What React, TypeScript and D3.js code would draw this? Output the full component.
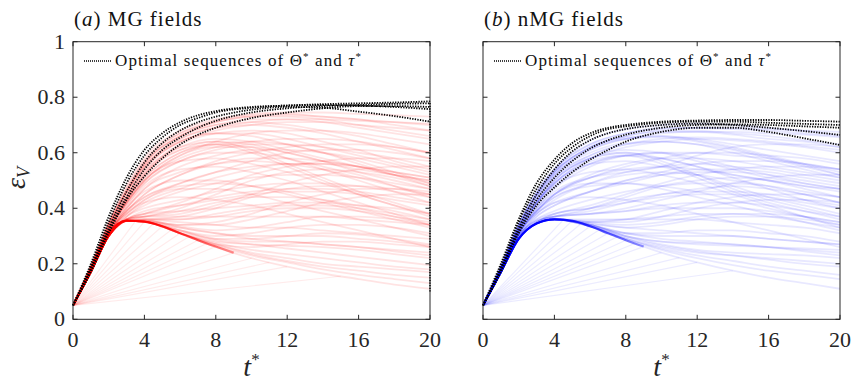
import React from "react";
import * as d3 from "d3";

// ---------- shared axes ----------
const TIME = [0, 1, 2, 3, 4, 6, 8, 10, 12, 14, 16, 18, 20];
const TIME_OPT = [0, 1, 2, 3, 4, 5, 6, 7, 8, 10, 12, 14, 16, 18, 20];
const TIME_BOLD = [0, 1, 2, 3, 4, 5, 6, 7, 8, 9];
const X_TICKS = [0, 4, 8, 12, 16, 20];
const Y_TICKS = [0, 0.2, 0.4, 0.6, 0.8, 1];
const Y_TICK_LABELS = ["0", "0.2", "0.4", "0.6", "0.8", "1"];
const START_V = 0.05;

// ---------- (a) MG fields ----------
const MG_CLOUD = [
  [0.05, 0.19, 0.35, 0.48, 0.58, 0.68, 0.72, 0.74, 0.745, 0.745, 0.74, 0.735, 0.73],
  [0.05, 0.19, 0.34, 0.47, 0.57, 0.67, 0.715, 0.735, 0.74, 0.73, 0.72, 0.71, 0.7],
  [0.05, 0.19, 0.34, 0.46, 0.56, 0.66, 0.7, 0.72, 0.72, 0.71, 0.69, 0.67, 0.65],
  [0.05, 0.18, 0.33, 0.45, 0.55, 0.65, 0.69, 0.7, 0.69, 0.67, 0.64, 0.61, 0.58],
  [0.05, 0.18, 0.33, 0.44, 0.53, 0.63, 0.67, 0.68, 0.67, 0.64, 0.61, 0.57, 0.54],
  [0.05, 0.18, 0.32, 0.43, 0.52, 0.62, 0.64, 0.61, 0.56, 0.51, 0.46, 0.42, 0.38],
  [0.05, 0.18, 0.32, 0.43, 0.52, 0.61, 0.63, 0.6, 0.55, 0.5, 0.45, 0.41, 0.37],
  [0.05, 0.18, 0.32, 0.42, 0.5, 0.59, 0.62, 0.62, 0.6, 0.57, 0.53, 0.5, 0.47],
  [0.05, 0.18, 0.31, 0.41, 0.49, 0.57, 0.61, 0.63, 0.63, 0.62, 0.6, 0.58, 0.55],
  [0.05, 0.18, 0.31, 0.4, 0.47, 0.55, 0.59, 0.61, 0.61, 0.6, 0.58, 0.55, 0.52],
  [0.05, 0.18, 0.31, 0.39, 0.45, 0.52, 0.56, 0.58, 0.58, 0.57, 0.55, 0.52, 0.49],
  [0.05, 0.17, 0.31, 0.38, 0.43, 0.49, 0.53, 0.55, 0.56, 0.56, 0.54, 0.52, 0.5],
  [0.05, 0.17, 0.3, 0.37, 0.41, 0.46, 0.49, 0.51, 0.52, 0.52, 0.51, 0.49, 0.47],
  [0.05, 0.17, 0.3, 0.37, 0.4, 0.43, 0.46, 0.48, 0.49, 0.49, 0.48, 0.46, 0.44],
  [0.05, 0.17, 0.3, 0.36, 0.39, 0.41, 0.43, 0.45, 0.46, 0.46, 0.45, 0.43, 0.41],
  [0.05, 0.17, 0.3, 0.36, 0.38, 0.39, 0.4, 0.41, 0.42, 0.42, 0.41, 0.4, 0.38],
  [0.05, 0.17, 0.3, 0.36, 0.37, 0.37, 0.37, 0.37, 0.37, 0.37, 0.36, 0.35, 0.34],
  [0.05, 0.17, 0.3, 0.355, 0.36, 0.35, 0.34, 0.33, 0.33, 0.32, 0.31, 0.3, 0.29],
  [0.05, 0.17, 0.3, 0.355, 0.355, 0.33, 0.31, 0.29, 0.28, 0.27, 0.26, 0.25, 0.24],
  [0.05, 0.17, 0.3, 0.355, 0.352, 0.31, 0.27, 0.24, 0.22, 0.2, 0.19, 0.18, 0.17],
  [0.05, 0.17, 0.3, 0.355, 0.352, 0.31, 0.26, 0.22, 0.19, 0.165, 0.145, 0.125, 0.11],
  [0.05, 0.17, 0.3, 0.355, 0.352, 0.31, 0.265, 0.23, 0.205, 0.18, 0.16, 0.145, 0.13],
  [0.05, 0.17, 0.3, 0.355, 0.352, 0.31, 0.27, 0.26, 0.27, 0.28, 0.28, 0.27, 0.26],
  [0.05, 0.17, 0.3, 0.355, 0.352, 0.32, 0.3, 0.31, 0.33, 0.34, 0.34, 0.33, 0.31],
  [0.05, 0.17, 0.3, 0.355, 0.36, 0.36, 0.38, 0.4, 0.41, 0.41, 0.4, 0.38, 0.36],
  [0.05, 0.18, 0.31, 0.4, 0.46, 0.5, 0.5, 0.48, 0.45, 0.42, 0.39, 0.36, 0.33],
  [0.05, 0.18, 0.31, 0.41, 0.48, 0.54, 0.55, 0.53, 0.5, 0.46, 0.42, 0.38, 0.34],
  [0.05, 0.18, 0.32, 0.43, 0.51, 0.6, 0.63, 0.64, 0.63, 0.6, 0.57, 0.53, 0.49],
  [0.05, 0.19, 0.34, 0.46, 0.56, 0.66, 0.7, 0.71, 0.7, 0.68, 0.66, 0.63, 0.6],
  [0.05, 0.18, 0.33, 0.44, 0.54, 0.64, 0.68, 0.7, 0.71, 0.71, 0.7, 0.69, 0.68],
  [0.05, 0.17, 0.3, 0.36, 0.38, 0.42, 0.47, 0.52, 0.55, 0.57, 0.58, 0.58, 0.57],
  [0.05, 0.17, 0.3, 0.36, 0.37, 0.38, 0.41, 0.45, 0.49, 0.52, 0.54, 0.55, 0.55],
  [0.05, 0.17, 0.3, 0.355, 0.355, 0.34, 0.34, 0.36, 0.39, 0.42, 0.44, 0.45, 0.45],
  [0.05, 0.17, 0.3, 0.355, 0.36, 0.37, 0.4, 0.44, 0.47, 0.48, 0.48, 0.47, 0.45],
  [0.05, 0.18, 0.31, 0.39, 0.44, 0.49, 0.53, 0.57, 0.6, 0.61, 0.61, 0.6, 0.58],
  [0.05, 0.18, 0.32, 0.42, 0.5, 0.58, 0.62, 0.64, 0.65, 0.65, 0.64, 0.62, 0.6],
  [0.05, 0.18, 0.32, 0.43, 0.52, 0.61, 0.64, 0.63, 0.6, 0.57, 0.55, 0.52, 0.5],
  [0.05, 0.18, 0.32, 0.43, 0.51, 0.6, 0.63, 0.62, 0.58, 0.54, 0.5, 0.46, 0.42],
  [0.05, 0.17, 0.3, 0.355, 0.352, 0.31, 0.28, 0.27, 0.255, 0.24, 0.225, 0.21, 0.195],
  [0.05, 0.17, 0.3, 0.355, 0.352, 0.32, 0.29, 0.28, 0.28, 0.27, 0.26, 0.245, 0.23],
  [0.05, 0.17, 0.3, 0.36, 0.37, 0.39, 0.42, 0.44, 0.44, 0.43, 0.41, 0.39, 0.36],
  [0.05, 0.18, 0.31, 0.38, 0.43, 0.47, 0.47, 0.45, 0.42, 0.39, 0.36, 0.33, 0.3],
  [0.05, 0.18, 0.32, 0.42, 0.49, 0.57, 0.6, 0.6, 0.58, 0.55, 0.52, 0.48, 0.44],
  [0.05, 0.19, 0.34, 0.46, 0.55, 0.64, 0.67, 0.66, 0.63, 0.6, 0.56, 0.52, 0.48],
  [0.05, 0.17, 0.3, 0.355, 0.352, 0.31, 0.27, 0.235, 0.21, 0.19, 0.175, 0.16, 0.15],
  [0.05, 0.17, 0.3, 0.355, 0.352, 0.31, 0.275, 0.25, 0.235, 0.22, 0.205, 0.19, 0.18],
  [0.05, 0.17, 0.3, 0.355, 0.352, 0.315, 0.285, 0.27, 0.265, 0.26, 0.25, 0.235, 0.22],
  [0.05, 0.17, 0.3, 0.355, 0.352, 0.32, 0.29, 0.29, 0.3, 0.31, 0.305, 0.29, 0.27],
  [0.05, 0.17, 0.3, 0.355, 0.355, 0.335, 0.32, 0.33, 0.35, 0.37, 0.37, 0.36, 0.34],
  [0.05, 0.17, 0.3, 0.355, 0.355, 0.34, 0.35, 0.38, 0.42, 0.45, 0.47, 0.47, 0.46],
  [0.05, 0.17, 0.3, 0.36, 0.37, 0.4, 0.45, 0.5, 0.53, 0.54, 0.53, 0.51, 0.48],
  [0.05, 0.18, 0.31, 0.39, 0.45, 0.52, 0.57, 0.6, 0.62, 0.63, 0.63, 0.62, 0.6],
  [0.05, 0.18, 0.32, 0.42, 0.5, 0.59, 0.64, 0.67, 0.68, 0.68, 0.67, 0.65, 0.63],
  [0.05, 0.19, 0.34, 0.46, 0.56, 0.66, 0.71, 0.73, 0.735, 0.73, 0.72, 0.7, 0.68],
  [0.05, 0.19, 0.35, 0.47, 0.57, 0.67, 0.71, 0.73, 0.73, 0.72, 0.7, 0.68, 0.66],
  [0.05, 0.19, 0.34, 0.46, 0.55, 0.65, 0.69, 0.71, 0.72, 0.72, 0.715, 0.71, 0.705],
  [0.05, 0.18, 0.33, 0.45, 0.54, 0.64, 0.67, 0.67, 0.65, 0.62, 0.59, 0.56, 0.53],
  [0.05, 0.18, 0.33, 0.44, 0.53, 0.62, 0.65, 0.64, 0.61, 0.58, 0.55, 0.53, 0.51],
  [0.05, 0.18, 0.32, 0.42, 0.5, 0.57, 0.58, 0.56, 0.53, 0.49, 0.45, 0.41, 0.38],
  [0.05, 0.18, 0.31, 0.4, 0.47, 0.53, 0.56, 0.57, 0.56, 0.54, 0.51, 0.48, 0.45],
  [0.05, 0.17, 0.3, 0.37, 0.42, 0.47, 0.51, 0.54, 0.56, 0.56, 0.55, 0.53, 0.51],
  [0.05, 0.17, 0.3, 0.36, 0.38, 0.41, 0.44, 0.46, 0.47, 0.47, 0.46, 0.44, 0.42],
  [0.05, 0.17, 0.3, 0.355, 0.36, 0.36, 0.37, 0.39, 0.4, 0.4, 0.39, 0.37, 0.35],
  [0.05, 0.17, 0.3, 0.355, 0.352, 0.33, 0.31, 0.3, 0.3, 0.3, 0.29, 0.28, 0.265],
  [0.05, 0.18, 0.31, 0.38, 0.42, 0.44, 0.43, 0.41, 0.38, 0.35, 0.32, 0.29, 0.26],
  [0.05, 0.18, 0.31, 0.39, 0.44, 0.48, 0.49, 0.48, 0.46, 0.43, 0.4, 0.37, 0.34],
];
const MG_OPTIMAL = [
  [0.05, 0.2, 0.37, 0.51, 0.61, 0.67, 0.71, 0.735, 0.75, 0.765, 0.77, 0.775, 0.778, 0.781, 0.785],
  [0.05, 0.19, 0.35, 0.49, 0.59, 0.655, 0.7, 0.725, 0.745, 0.762, 0.77, 0.772, 0.77, 0.765, 0.757],
  [0.05, 0.18, 0.33, 0.46, 0.565, 0.635, 0.68, 0.71, 0.73, 0.755, 0.765, 0.762, 0.748, 0.732, 0.712],
  [0.05, 0.17, 0.31, 0.43, 0.515, 0.58, 0.63, 0.665, 0.69, 0.725, 0.745, 0.76, 0.768, 0.768, 0.765],
  [0.05, 0.18, 0.32, 0.44, 0.54, 0.61, 0.655, 0.69, 0.715, 0.745, 0.76, 0.768, 0.772, 0.776, 0.778],
];
const MG_BOLD = [0.05, 0.175, 0.31, 0.355, 0.352, 0.335, 0.31, 0.285, 0.262, 0.24];
const MG_FAN_T = [3.5, 4, 4.5, 5, 5.5, 6, 6.5, 7, 7.5, 8, 9, 10, 11, 12, 15];
const MG_FAN_V = [0.354, 0.352, 0.345, 0.335, 0.322, 0.31, 0.297, 0.285, 0.273, 0.262, 0.24, 0.22, 0.205, 0.19, 0.155];
const MG_END_RANGE = [0.1, 0.785];

// ---------- (b) nMG fields ----------
const NMG_CLOUD = [
  [0.05, 0.19, 0.34, 0.46, 0.54, 0.63, 0.67, 0.69, 0.69, 0.685, 0.68, 0.67, 0.66],
  [0.05, 0.19, 0.34, 0.45, 0.53, 0.62, 0.66, 0.675, 0.675, 0.665, 0.65, 0.64, 0.62],
  [0.05, 0.18, 0.33, 0.44, 0.52, 0.61, 0.65, 0.66, 0.65, 0.63, 0.61, 0.59, 0.57],
  [0.05, 0.18, 0.33, 0.43, 0.51, 0.59, 0.63, 0.64, 0.63, 0.61, 0.58, 0.55, 0.52],
  [0.05, 0.18, 0.32, 0.42, 0.5, 0.58, 0.6, 0.57, 0.52, 0.47, 0.43, 0.4, 0.37],
  [0.05, 0.18, 0.32, 0.42, 0.49, 0.57, 0.59, 0.56, 0.51, 0.46, 0.42, 0.39, 0.36],
  [0.05, 0.18, 0.31, 0.4, 0.46, 0.51, 0.53, 0.55, 0.59, 0.62, 0.63, 0.63, 0.62],
  [0.05, 0.18, 0.31, 0.4, 0.47, 0.55, 0.59, 0.6, 0.58, 0.55, 0.52, 0.49, 0.47],
  [0.05, 0.18, 0.31, 0.39, 0.45, 0.52, 0.56, 0.58, 0.58, 0.57, 0.55, 0.53, 0.51],
  [0.05, 0.17, 0.3, 0.38, 0.43, 0.49, 0.53, 0.55, 0.56, 0.55, 0.54, 0.52, 0.5],
  [0.05, 0.17, 0.3, 0.37, 0.41, 0.46, 0.5, 0.52, 0.53, 0.53, 0.52, 0.5, 0.48],
  [0.05, 0.17, 0.3, 0.36, 0.39, 0.43, 0.46, 0.48, 0.49, 0.49, 0.48, 0.46, 0.44],
  [0.05, 0.17, 0.3, 0.35, 0.38, 0.4, 0.42, 0.44, 0.45, 0.45, 0.44, 0.42, 0.4],
  [0.05, 0.17, 0.29, 0.35, 0.37, 0.38, 0.39, 0.4, 0.4, 0.4, 0.39, 0.37, 0.35],
  [0.05, 0.17, 0.29, 0.345, 0.36, 0.36, 0.36, 0.36, 0.36, 0.35, 0.34, 0.33, 0.31],
  [0.05, 0.17, 0.29, 0.345, 0.36, 0.345, 0.33, 0.32, 0.31, 0.3, 0.29, 0.28, 0.27],
  [0.05, 0.17, 0.29, 0.345, 0.36, 0.335, 0.29, 0.26, 0.24, 0.23, 0.22, 0.21, 0.2],
  [0.05, 0.17, 0.29, 0.345, 0.36, 0.335, 0.285, 0.24, 0.205, 0.175, 0.15, 0.13, 0.11],
  [0.05, 0.17, 0.29, 0.345, 0.36, 0.335, 0.29, 0.25, 0.22, 0.195, 0.175, 0.16, 0.145],
  [0.05, 0.17, 0.29, 0.345, 0.36, 0.34, 0.31, 0.29, 0.28, 0.27, 0.26, 0.25, 0.24],
  [0.05, 0.17, 0.29, 0.345, 0.36, 0.35, 0.34, 0.35, 0.37, 0.38, 0.38, 0.37, 0.35],
  [0.05, 0.17, 0.29, 0.35, 0.37, 0.39, 0.42, 0.45, 0.47, 0.48, 0.47, 0.45, 0.42],
  [0.05, 0.18, 0.31, 0.4, 0.45, 0.49, 0.49, 0.47, 0.44, 0.41, 0.38, 0.35, 0.32],
  [0.05, 0.18, 0.32, 0.41, 0.48, 0.53, 0.54, 0.52, 0.49, 0.45, 0.41, 0.37, 0.33],
  [0.05, 0.19, 0.34, 0.45, 0.53, 0.62, 0.655, 0.66, 0.645, 0.62, 0.59, 0.56, 0.53],
  [0.05, 0.18, 0.33, 0.44, 0.52, 0.61, 0.65, 0.67, 0.675, 0.675, 0.67, 0.665, 0.655],
  [0.05, 0.17, 0.3, 0.36, 0.38, 0.41, 0.45, 0.49, 0.52, 0.54, 0.55, 0.55, 0.54],
  [0.05, 0.17, 0.29, 0.35, 0.37, 0.38, 0.4, 0.43, 0.46, 0.49, 0.51, 0.52, 0.52],
  [0.05, 0.17, 0.29, 0.345, 0.36, 0.35, 0.35, 0.37, 0.4, 0.42, 0.43, 0.43, 0.42],
  [0.05, 0.18, 0.31, 0.38, 0.42, 0.46, 0.5, 0.53, 0.56, 0.57, 0.57, 0.56, 0.54],
  [0.05, 0.18, 0.32, 0.41, 0.48, 0.56, 0.59, 0.6, 0.6, 0.59, 0.58, 0.56, 0.54],
  [0.05, 0.18, 0.32, 0.42, 0.5, 0.58, 0.61, 0.6, 0.57, 0.54, 0.51, 0.49, 0.47],
  [0.05, 0.18, 0.32, 0.42, 0.49, 0.56, 0.59, 0.58, 0.55, 0.51, 0.47, 0.43, 0.4],
  [0.05, 0.17, 0.29, 0.345, 0.36, 0.34, 0.3, 0.27, 0.25, 0.24, 0.235, 0.23, 0.22],
  [0.05, 0.17, 0.29, 0.345, 0.36, 0.34, 0.31, 0.3, 0.3, 0.3, 0.29, 0.28, 0.27],
  [0.05, 0.17, 0.3, 0.355, 0.37, 0.38, 0.39, 0.41, 0.42, 0.42, 0.41, 0.39, 0.37],
  [0.05, 0.18, 0.31, 0.39, 0.44, 0.49, 0.52, 0.53, 0.52, 0.5, 0.48, 0.45, 0.42],
  [0.05, 0.19, 0.34, 0.45, 0.53, 0.615, 0.65, 0.655, 0.64, 0.615, 0.585, 0.555, 0.52],
  [0.05, 0.18, 0.33, 0.43, 0.51, 0.59, 0.63, 0.65, 0.655, 0.65, 0.64, 0.625, 0.61],
  [0.05, 0.17, 0.29, 0.345, 0.36, 0.34, 0.3, 0.28, 0.27, 0.265, 0.26, 0.255, 0.25],
  [0.05, 0.18, 0.33, 0.45, 0.54, 0.645, 0.685, 0.7, 0.705, 0.7, 0.69, 0.678, 0.664],
  [0.05, 0.17, 0.29, 0.345, 0.36, 0.335, 0.29, 0.255, 0.23, 0.21, 0.19, 0.175, 0.16],
  [0.05, 0.17, 0.29, 0.345, 0.36, 0.335, 0.295, 0.265, 0.245, 0.23, 0.215, 0.2, 0.19],
  [0.05, 0.17, 0.29, 0.345, 0.36, 0.34, 0.3, 0.28, 0.275, 0.27, 0.26, 0.245, 0.23],
  [0.05, 0.17, 0.29, 0.345, 0.36, 0.34, 0.31, 0.31, 0.32, 0.32, 0.31, 0.3, 0.28],
  [0.05, 0.17, 0.29, 0.345, 0.36, 0.345, 0.33, 0.34, 0.36, 0.37, 0.37, 0.36, 0.34],
  [0.05, 0.17, 0.29, 0.345, 0.36, 0.35, 0.36, 0.39, 0.42, 0.44, 0.45, 0.45, 0.44],
  [0.05, 0.17, 0.3, 0.355, 0.37, 0.4, 0.44, 0.48, 0.5, 0.51, 0.5, 0.48, 0.46],
  [0.05, 0.18, 0.31, 0.39, 0.45, 0.51, 0.55, 0.58, 0.6, 0.6, 0.59, 0.58, 0.56],
  [0.05, 0.18, 0.32, 0.42, 0.49, 0.58, 0.62, 0.64, 0.65, 0.645, 0.635, 0.62, 0.6],
  [0.05, 0.19, 0.34, 0.46, 0.54, 0.63, 0.67, 0.685, 0.69, 0.69, 0.685, 0.68, 0.675],
  [0.05, 0.19, 0.34, 0.45, 0.53, 0.62, 0.66, 0.68, 0.68, 0.67, 0.66, 0.645, 0.63],
  [0.05, 0.18, 0.33, 0.44, 0.52, 0.6, 0.635, 0.64, 0.63, 0.6, 0.57, 0.54, 0.51],
  [0.05, 0.18, 0.32, 0.42, 0.49, 0.56, 0.57, 0.55, 0.52, 0.48, 0.44, 0.41, 0.38],
  [0.05, 0.18, 0.31, 0.39, 0.45, 0.51, 0.54, 0.55, 0.54, 0.52, 0.5, 0.47, 0.44],
  [0.05, 0.17, 0.3, 0.37, 0.41, 0.46, 0.49, 0.52, 0.54, 0.54, 0.53, 0.51, 0.49],
  [0.05, 0.17, 0.29, 0.35, 0.38, 0.4, 0.43, 0.45, 0.46, 0.46, 0.45, 0.43, 0.41],
  [0.05, 0.17, 0.29, 0.345, 0.36, 0.355, 0.36, 0.37, 0.38, 0.38, 0.37, 0.35, 0.33],
  [0.05, 0.18, 0.31, 0.38, 0.42, 0.44, 0.43, 0.41, 0.38, 0.35, 0.32, 0.29, 0.26],
  [0.05, 0.18, 0.31, 0.39, 0.44, 0.48, 0.49, 0.48, 0.46, 0.43, 0.4, 0.37, 0.34],
  [0.05, 0.18, 0.32, 0.42, 0.5, 0.58, 0.6, 0.58, 0.55, 0.52, 0.5, 0.48, 0.47],
];
const NMG_OPTIMAL = [
  [0.05, 0.2, 0.36, 0.49, 0.575, 0.635, 0.67, 0.69, 0.7, 0.712, 0.716, 0.718, 0.718, 0.715, 0.712],
  [0.05, 0.19, 0.35, 0.47, 0.56, 0.62, 0.66, 0.685, 0.695, 0.708, 0.712, 0.712, 0.708, 0.704, 0.7],
  [0.05, 0.18, 0.33, 0.45, 0.54, 0.605, 0.645, 0.67, 0.685, 0.7, 0.705, 0.7, 0.69, 0.678, 0.664],
  [0.05, 0.17, 0.31, 0.41, 0.475, 0.53, 0.575, 0.61, 0.64, 0.675, 0.69, 0.69, 0.675, 0.652, 0.628],
  [0.05, 0.18, 0.32, 0.43, 0.51, 0.57, 0.615, 0.645, 0.665, 0.69, 0.7, 0.702, 0.7, 0.695, 0.69],
];
const NMG_BOLD = [0.05, 0.17, 0.29, 0.345, 0.36, 0.355, 0.335, 0.31, 0.285, 0.262];
const NMG_FAN_T = [4.5, 5, 5.5, 6, 6.5, 7, 7.5, 8, 8.5, 9, 10, 11, 12, 14];
const NMG_FAN_V = [0.358, 0.355, 0.345, 0.335, 0.322, 0.31, 0.297, 0.285, 0.273, 0.262, 0.24, 0.222, 0.205, 0.175];

// ---------- layout ----------
const W = 859;
const H = 382;
const TOP = 41.7;
const BOTTOM = 319.3;
const AXIS_COLOR = "#262626";
const FONT = "'Liberation Serif', 'DejaVu Serif', serif";

type PanelProps = {
  id: string;
  x0: number;
  x1: number;
  title: string;
  letter: string;
  color: string;
  cloud: number[][];
  optimal: number[][];
  bold: number[];
  fanT: number[];
  fanV: number[];
  endRange?: number[];
  showYLabels: boolean;
  cloudOpacity: number;
};

function Panel(p: PanelProps) {
  const x = d3.scaleLinear().domain([0, 20]).range([p.x0, p.x1]);
  const y = d3.scaleLinear().domain([0, 1]).range([BOTTOM, TOP]);
  const line = d3
    .line<[number, number]>()
    .x((d) => x(d[0]))
    .y((d) => y(d[1]))
    .curve(d3.curveMonotoneX);
  const straight = d3
    .line<[number, number]>()
    .x((d) => x(d[0]))
    .y((d) => y(d[1]));
  const toPts = (ts: number[], vs: number[]) =>
    vs.map((v, i) => [ts[i], v] as [number, number]);
  const tick = 4.5;
  const legY = 61;
  const legX = p.x0 + 11;
  const textStyle = { fontFamily: FONT };
  return (
    <g>
      <defs>
        <clipPath id={`clip-${p.id}`}>
          <rect x={p.x0} y={TOP} width={p.x1 - p.x0} height={BOTTOM - TOP} />
        </clipPath>
        <linearGradient
          id={`grad-${p.id}`}
          gradientUnits="userSpaceOnUse"
          x1={x(0)}
          x2={x(9)}
          y1={0}
          y2={0}
        >
          <stop offset="0" stopColor={p.color} stopOpacity={1} />
          <stop offset="0.4" stopColor={p.color} stopOpacity={0.95} />
          <stop offset="1" stopColor={p.color} stopOpacity={0.4} />
        </linearGradient>
      </defs>
      <g clipPath={`url(#clip-${p.id})`}>
        {p.fanT.map((t, i) => (
          <path
            key={`f${i}`}
            d={straight([[0, START_V], [t, p.fanV[i]]]) || ""}
            fill="none"
            stroke={p.color}
            strokeOpacity={0.08}
            strokeWidth={1.2}
          />
        ))}
        {p.cloud.map((c, i) => (
          <path
            key={`c${i}`}
            d={line(toPts(TIME, c)) || ""}
            fill="none"
            stroke={p.color}
            strokeOpacity={p.cloudOpacity}
            strokeWidth={1.8}
          />
        ))}
        <path
          d={line(toPts(TIME_BOLD, p.bold)) || ""}
          fill="none"
          stroke={`url(#grad-${p.id})`}
          strokeWidth={2.2}
        />
      </g>
      {p.optimal.map((c, i) => (
        <path
          key={`o${i}`}
          d={line(toPts(TIME_OPT, c)) || ""}
          fill="none"
          stroke="#000"
          strokeWidth={1.8}
          strokeDasharray="1.3 1.3"
        />
      ))}
      {p.endRange && (
        <path
          d={straight([[20, p.endRange[0]], [20, p.endRange[1]]]) || ""}
          fill="none"
          stroke="#000"
          strokeWidth={1.6}
          strokeDasharray="1.3 1.3"
        />
      )}
      <rect
        x={p.x0}
        y={TOP}
        width={p.x1 - p.x0}
        height={BOTTOM - TOP}
        fill="none"
        stroke={AXIS_COLOR}
        strokeWidth={1}
      />
      {X_TICKS.map((t) => (
        <g key={`xt${t}`}>
          <line x1={x(t)} x2={x(t)} y1={BOTTOM} y2={BOTTOM - tick} stroke={AXIS_COLOR} />
          <line x1={x(t)} x2={x(t)} y1={TOP} y2={TOP + tick} stroke={AXIS_COLOR} />
          <text x={x(t)} y={347} textAnchor="middle" style={textStyle} fontSize={22} fill={AXIS_COLOR}>
            {t}
          </text>
        </g>
      ))}
      {Y_TICKS.map((v, i) => (
        <g key={`yt${v}`}>
          <line x1={p.x0} x2={p.x0 + tick} y1={y(v)} y2={y(v)} stroke={AXIS_COLOR} />
          <line x1={p.x1} x2={p.x1 - tick} y1={y(v)} y2={y(v)} stroke={AXIS_COLOR} />
          {p.showYLabels && (
            <text
              x={p.x0 - 8}
              y={y(v) + 7}
              textAnchor="end"
              style={textStyle}
              fontSize={22}
              fill={AXIS_COLOR}
            >
              {Y_TICK_LABELS[i]}
            </text>
          )}
        </g>
      ))}
      <text x={p.x0 + 1} y={26} style={{ ...textStyle, letterSpacing: "1px" }} fontSize={21} fill="#111">
        (<tspan fontStyle="italic">{p.letter}</tspan>) {p.title}
      </text>
      <line
        x1={legX}
        x2={legX + 27}
        y1={legY}
        y2={legY}
        stroke="#000"
        strokeWidth={1.3}
        strokeDasharray="1 1"
      />
      <text
        x={legX + 31}
        y={legY + 5}
        style={{ ...textStyle, letterSpacing: "1.1px" }}
        fontSize={17}
        fill="#111"
      >
        Optimal sequences of Θ
        <tspan dy={-6} fontSize={11}>*</tspan>
        <tspan dy={6}> and </tspan>
        <tspan fontStyle="italic">τ</tspan>
        <tspan dy={-6} fontSize={11}>*</tspan>
      </text>
      <text
        x={(p.x0 + p.x1) / 2}
        y={376}
        textAnchor="middle"
        style={textStyle}
        fontSize={28}
        fill={AXIS_COLOR}
      >
        <tspan fontStyle="italic">t</tspan>
        <tspan dy={-11} fontSize={17}>*</tspan>
      </text>
    </g>
  );
}

export default function App() {
  return (
    <svg
      width={W}
      height={H}
      viewBox={`0 0 ${W} ${H}`}
      style={{ position: "absolute", left: 0, top: 0, background: "#fff" }}
    >
      <rect width={W} height={H} fill="#fff" />
      <Panel
        id="a"
        x0={73}
        x1={430}
        title="MG fields"
        letter="a"
        color="#ff0000"
        cloud={MG_CLOUD}
        optimal={MG_OPTIMAL}
        bold={MG_BOLD}
        fanT={MG_FAN_T}
        fanV={MG_FAN_V}
        endRange={MG_END_RANGE}
        showYLabels={true}
        cloudOpacity={0.11}
      />
      <Panel
        id="b"
        x0={483}
        x1={840}
        title="nMG fields"
        letter="b"
        color="#0000ff"
        cloud={NMG_CLOUD}
        optimal={NMG_OPTIMAL}
        bold={NMG_BOLD}
        fanT={NMG_FAN_T}
        fanV={NMG_FAN_V}
        showYLabels={false}
        cloudOpacity={0.09}
      />
      <text
        transform="translate(25,178) rotate(-90)"
        textAnchor="middle"
        style={{ fontFamily: FONT }}
        fontSize={28}
        fill={AXIS_COLOR}
      >
        <tspan fontStyle="italic">ε</tspan>
        <tspan dy={5} fontSize={18} fontStyle="italic">V</tspan>
      </text>
    </svg>
  );
}
